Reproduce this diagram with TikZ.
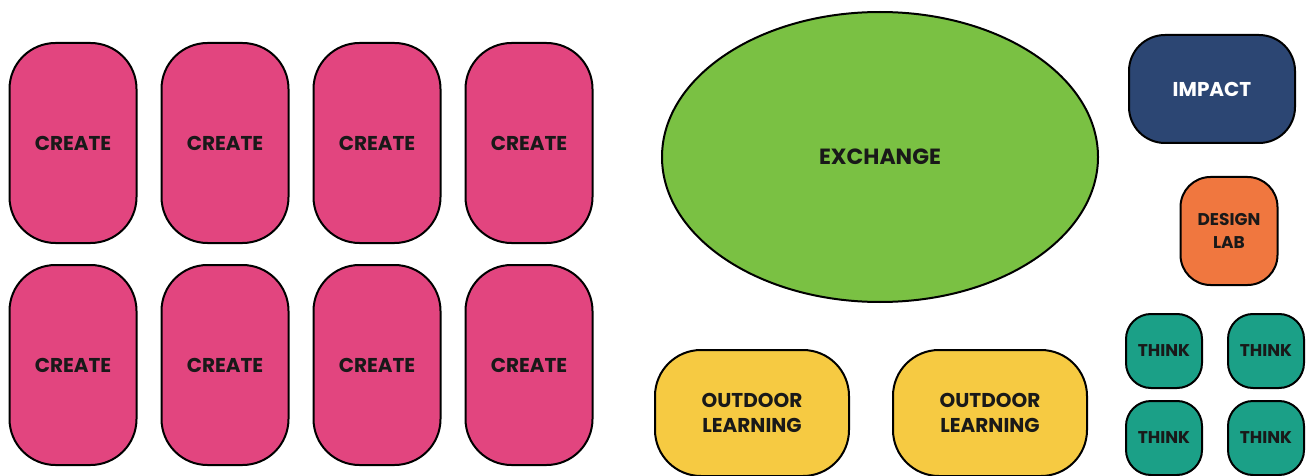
\documentclass[tikz,border=0pt]{standalone}
\usepackage{fontspec}
\setmainfont{Poppins}
\usepackage{tikz}
\usetikzlibrary{shapes.geometric}

\definecolor{createpink}{HTML}{E2457F}
\definecolor{exchangegreen}{HTML}{7AC143}
\definecolor{impactnavy}{HTML}{2C4673}
\definecolor{laborange}{HTML}{F0773F}
\definecolor{thinkteal}{HTML}{1BA087}
\definecolor{outdooryellow}{HTML}{F6CA42}

\tikzset{
  room/.style={draw=black,line width=2pt,align=center,inner sep=0pt,
    text=black!90,font=\bfseries\fontsize{20}{25}\selectfont},
  createroom/.style={room,fill=createpink,minimum width=127pt,minimum height=200pt,rounded corners=46pt},
  thinkroom/.style={room,fill=thinkteal,minimum width=76pt,minimum height=74pt,rounded corners=25pt,
    font=\bfseries\fontsize{17}{20}\selectfont},
}

\begin{document}
\begin{tikzpicture}[x=1pt,y=-1pt]
\useasboundingbox (0,0) rectangle (1307,476);

% Create rooms
\foreach \c/\x in {1/73,2/225,3/377,4/529}{
  \node[createroom] (create-top-\c) at (\x,143) {CREATE};
  \node[createroom] (create-bottom-\c) at (\x,365) {CREATE};
}

% Exchange
\node[room,ellipse,fill=exchangegreen,minimum width=436pt,minimum height=290pt,font=\bfseries\fontsize{22}{26}\selectfont] (exchange) at (880,157) {EXCHANGE};

% Outdoor learning
\node[room,fill=outdooryellow,minimum width=194pt,minimum height=126pt,rounded corners=46pt] (outdoor-1) at (752,413) {OUTDOOR\\LEARNING};
\node[room,fill=outdooryellow,minimum width=194pt,minimum height=126pt,rounded corners=46pt] (outdoor-2) at (990,413) {OUTDOOR\\LEARNING};

% Impact and design lab
\node[room,fill=impactnavy,text=white,minimum width=166pt,minimum height=108pt,rounded corners=36pt] (impact) at (1212,89) {IMPACT};
\node[room,fill=laborange,minimum width=97pt,minimum height=108pt,rounded corners=30pt,font=\bfseries\fontsize{17}{23}\selectfont] (design-lab) at (1229,231) {DESIGN\\LAB};

% Think rooms
\node[thinkroom] (think-1) at (1164,351) {THINK};
\node[thinkroom] (think-2) at (1266,351) {THINK};
\node[thinkroom] (think-3) at (1164,438) {THINK};
\node[thinkroom] (think-4) at (1266,438) {THINK};
\end{tikzpicture}
\end{document}
